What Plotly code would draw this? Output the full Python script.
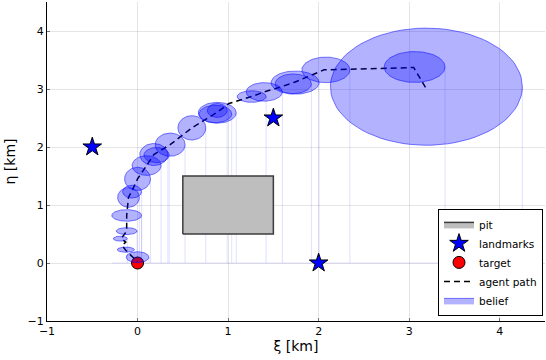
import numpy as np
import plotly.graph_objects as go

# obstacle (pit) corners
pit_x = [0.5, 1.5]
pit_y = [0.5, 1.5]

# landmarks and target
landmark_x = [-0.5, 1.5, 2.0]
landmark_y = [2.0, 2.5, 0.0]
target_x = [0.0]
target_y = [0.0]

# agent path (start at the right, ends at the target)
path_x = [3.18, 3.05, 2.06, 2.0, 1.74, 1.57, 1.40, 1.26, 1.01, 0.88, 0.60, 0.36,
          0.18, 0.10, 0.0, -0.06, -0.10, -0.12, -0.12, -0.18, -0.13, -0.17, -0.13, 0.0]
path_y = [3.03, 3.37, 3.33, 3.29, 3.12, 3.03, 2.95, 2.87, 2.75, 2.60, 2.33, 2.04,
          1.87, 1.68, 1.45, 1.25, 1.13, 0.82, 0.55, 0.42, 0.36, 0.30, 0.22, 0.02]

# belief ellipses: centre and semi axes
belief_cx = [3.19, 3.06, 2.08, 1.74, 1.72, 1.40, 1.26, 0.88, 0.86, 0.88, 0.60, 0.36,
             0.18, 0.21, 0.10, 0.0, -0.10, -0.06, -0.12, -0.12, -0.19, -0.13, 0.0]
belief_cy = [3.04, 3.38, 3.33, 3.11, 3.09, 2.95, 2.87, 2.59, 2.57, 2.63, 2.33, 2.04,
             1.87, 1.86, 1.68, 1.45, 1.13, 1.23, 0.82, 0.55, 0.42, 0.23, 0.10]
belief_rx = [1.06, 0.336, 0.265, 0.265, 0.20, 0.20, 0.16, 0.21, 0.18, 0.11, 0.154, 0.165,
             0.155, 0.14, 0.16, 0.143, 0.12, 0.105, 0.165, 0.115, 0.077, 0.094, 0.125]
belief_ry = [1.01, 0.266, 0.22, 0.20, 0.17, 0.16, 0.10, 0.18, 0.15, 0.12, 0.21, 0.20,
             0.19, 0.13, 0.17, 0.20, 0.17, 0.11, 0.10, 0.06, 0.043, 0.045, 0.095]

FONT = "DejaVu Sans"
fig = go.Figure()

# faint fill-range lines left by the ellipses (down to y = 0)
fx, fy = [], []
for cx, cy, rx in zip(belief_cx, belief_cy, belief_rx):
    fx += [cx + rx, cx + rx, None]
    fy += [cy, 0, None]
lefts = [c - r for c, r in zip(belief_cx, belief_rx)]
rights = [c + r for c, r in zip(belief_cx, belief_rx)]
fx += [min(lefts), max(rights)]
fy += [0, 0]
fig.add_trace(go.Scatter(x=fx, y=fy, mode="lines", showlegend=False, hoverinfo="skip",
                         line=dict(color="rgba(0,0,255,0.12)", width=1)))

fig.add_trace(go.Scatter(
    x=[pit_x[0], pit_x[1], pit_x[1], pit_x[0], pit_x[0]],
    y=[pit_y[0], pit_y[0], pit_y[1], pit_y[1], pit_y[0]],
    mode="lines", fill="toself", fillcolor="rgb(190,190,190)",
    line=dict(color="rgb(60,60,60)", width=1.5), name="pit"))

fig.add_trace(go.Scatter(x=landmark_x, y=landmark_y, mode="markers", name="landmarks",
                         marker=dict(symbol="star", size=14, color="blue",
                                     line=dict(color="black", width=1))))

fig.add_trace(go.Scatter(x=target_x, y=target_y, mode="markers", name="target",
                         marker=dict(symbol="circle", size=12, color="red",
                                     line=dict(color="black", width=1))))

fig.add_trace(go.Scatter(x=path_x, y=path_y, mode="lines", name="agent path",
                         line=dict(color="black", width=1.5, dash="6px,4px")))

t = np.linspace(0, 2 * np.pi, 80)
for i, (cx, cy, rx, ry) in enumerate(zip(belief_cx, belief_cy, belief_rx, belief_ry)):
    fig.add_trace(go.Scatter(
        x=cx + rx * np.cos(t), y=cy + ry * np.sin(t), mode="lines", fill="toself",
        fillcolor="rgba(0,0,255,0.3)", line=dict(color="rgba(0,0,255,0.5)", width=1),
        name="belief", legendgroup="belief", showlegend=(i == 0), hoverinfo="skip"))

axis = dict(showline=True, linecolor="black", linewidth=1, mirror=False,
            ticks="inside", ticklen=3, tickcolor="rgba(0,0,0,0.5)",
            showgrid=True, gridcolor="rgba(0,0,0,0.1)", gridwidth=0.5,
            zeroline=False, dtick=1, automargin=False,
            tickfont=dict(family=FONT, size=11, color="black"),
            title_font=dict(family=FONT, size=14, color="black"))

fig.update_xaxes(axis, range=[-1, 4.5], title_text="ξ [km]", title_standoff=2)
fig.update_yaxes(axis, range=[-1, 4.5], title_text="η [km]", title_standoff=8)

fig.update_layout(
    width=546, height=360,
    margin=dict(l=47, r=1, t=2, b=39, autoexpand=False),
    plot_bgcolor="white", paper_bgcolor="white",
    font=dict(family=FONT, size=11, color="black"),
    legend=dict(x=0.996, y=0.016, xanchor="right", yanchor="bottom",
                bgcolor="white", bordercolor="black", borderwidth=1,
                font=dict(family=FONT, size=10.5), itemwidth=30,
                tracegroupgap=0),
)

fig.write_html("out.html", config={"displayModeBar": False},
               post_script="document.body.style.margin='0';")
